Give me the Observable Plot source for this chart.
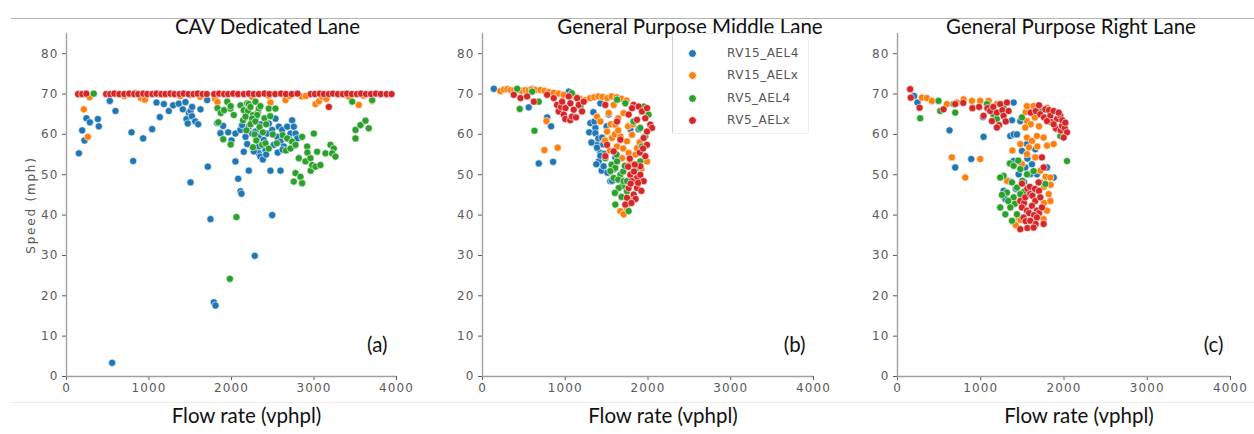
<!DOCTYPE html>
<html><head><meta charset="utf-8">
<script src="https://cdn.jsdelivr.net/npm/d3@7"></script>
<script src="https://cdn.jsdelivr.net/npm/@observablehq/plot@0.6"></script>
<style>
body{margin:0;background:#fff;}
#fig{position:relative;width:1254px;height:434px;overflow:hidden;background:#fff;font-family:"DejaVu Sans",sans-serif;}
.panel{position:absolute;top:0;}
.hline{position:absolute;left:11px;width:1243px;height:0;}
#legend{position:absolute;left:672px;top:33px;width:135px;height:99px;border:1px solid #eeeeee;border-left:1px solid #d0d0d0;border-radius:2px;background:#fff;z-index:2;}
.lg-item{position:absolute;left:0;height:14px;line-height:14px;font-size:12px;color:#555;letter-spacing:0.5px;}
.lg-dot{position:absolute;left:15px;top:3px;width:7px;height:7px;border-radius:50%;border:0.6px solid #fff;}
.lg-text{position:absolute;left:54px;top:0;white-space:nowrap;}
</style></head><body><div id="fig"></div><script>
// ---------- text / categories ----------
const seriesNames = ["RV15_AEL4", "RV15_AELx", "RV5_AEL4", "RV5_AELx"];
const seriesColors = ["#1f77b4", "#ff7f0e", "#2ca02c", "#d62728"];
const panelTitles = ["CAV Dedicated Lane", "General Purpose Middle Lane", "General Purpose Right Lane"];
const panelTags = ["(a)", "(b)", "(c)"];
const xLabel = "Flow rate (vphpl)";
const yLabel = "Speed (mph)";
const xTicks = [0, 1000, 2000, 3000, 4000];
const yTicks = [0, 10, 20, 30, 40, 50, 60, 70, 80];

// ---------- (a) CAV Dedicated Lane: [flow, speed] ----------
const cavRV15AEL4 = [[150,55.3],[190,61],[218,58.5],[242,64],[283,63],[380,63.8],[392,62],[525,68.3],[553,3.4],[594,65.8],[788,60.5],[808,53.4],[929,59],[1038,61.3],[1091,67.9],[1131,64.3],[1180,67.5],[1240,65.8],[1293,67.2],[1361,67.6],[1410,66.2],[1442,68],[1454,63.8],[1470,62.7],[1483,65.4],[1503,65.8],[1503,48.1],[1520,64.5],[1523,66.8],[1560,63.2],[1596,62.5],[1624,66.2],[1705,68.5],[1713,52],[1745,39],[1786,18.4],[1806,17.6],[1826,62.8],[1866,60.3],[1899,62.1],[1960,60.5],[2000,58.5],[2048,60.2],[2109,61.1],[2129,62.3],[2170,59.4],[2210,61.9],[2250,60.2],[2291,60.7],[2291,63.8],[2331,59.4],[2331,57],[2351,62.5],[2392,58.6],[2432,60.2],[2452,62.7],[2493,61.1],[2533,63.9],[2554,59.4],[2574,61.9],[2614,61.1],[2594,58.2],[2634,57],[2675,61.9],[2715,60.2],[2735,63.5],[2755,61.9],[2776,60.2],[2796,59],[2048,53.3],[2149,55.7],[2210,51],[2331,55.3],[2472,51],[2594,51],[2412,56.1],[2513,57.4],[2190,57.6],[2270,55.8],[2350,54.5],[2380,53.8],[2420,55],[2560,55.5],[2620,56.2],[2700,58.8],[2760,57.2],[2109,45.9],[2081,49],[2121,45.3],[2493,40],[2282,29.9]];
const cavRV15AELx = [[170,70],[210,66.2],[259,59.4],[280,69.2],[640,70],[700,69.5],[900,69],[950,68.6],[1250,70],[1380,69.5],[1500,69.8],[1620,69.3],[1800,68.8],[1830,68],[2050,70],[2250,69.3],[2450,69.6],[2473,67.9],[2655,68.5],[2700,69.5],[2850,69.4],[2900,69.5],[3018,67.5],[3060,68.2],[3100,69.3],[3150,68.8],[3300,70],[3420,69.4],[3543,67.3],[3600,69.6],[3705,68.3]];
const cavRV5AEL4 = [[150,70],[220,70],[330,70.1],[700,70],[770,70],[830,70.2],[1130,70],[1600,70.1],[1830,66.5],[1870,65.3],[1910,66],[1948,68.1],[1988,66.4],[1990,67],[2028,64.8],[2109,67.2],[2140,63.5],[2149,66],[2180,61],[2190,67.7],[2200,65.8],[2210,67.5],[2230,66.8],[2260,64.8],[2291,68.1],[2320,65.5],[2331,66.4],[2350,67],[2311,64.8],[2170,64.4],[2250,63.9],[2400,64],[2420,62.5],[2452,66.4],[2470,64.5],[2500,60],[2533,66.4],[2230,62.5],[2290,63.2],[2280,60],[2340,61.8],[2380,60.5],[2300,58.5],[2260,56.8],[1840,63],[1900,58.8],[1990,57.5],[2371,57.4],[2412,57.8],[2452,56.5],[2550,57.8],[2620,59.8],[2660,56],[2675,59],[2735,58.2],[2715,56.5],[2776,57.4],[2856,59.4],[2917,57],[2920,55.5],[2998,60.2],[3038,55.7],[2816,54.1],[2897,53.3],[2957,54.1],[2960,51],[2978,52.4],[3018,52],[3078,52.4],[3139,55.3],[3200,57.4],[3240,56.5],[3220,55.3],[3260,54.5],[2776,50.4],[2836,49.5],[2755,48.3],[2856,47.9],[3463,68.1],[3503,61.1],[3503,59],[3563,62.3],[3624,63.4],[3664,61.5],[3705,68.5],[2060,39.5],[1980,24.2]];
const cavRV5AELx = [[140,70],[190,70],[240,70.1],[480,70],[530,70],[580,70.1],[640,70],[700,70],[760,70.1],[820,70],[870,70],[930,70.1],[980,70],[1040,70],[1090,70.1],[1150,70],[1200,70],[1260,70.1],[1310,70],[1370,70],[1420,70.1],[1480,70],[1540,70],[1590,70.1],[1650,70],[1700,70],[1790,70],[1850,70.1],[1910,70],[1960,70],[2020,70.1],[2080,70],[2150,70],[2210,70.1],[2270,70],[2330,70],[2400,70.1],[2460,70],[2530,70],[2600,70.1],[2660,70],[2730,70],[2800,70.1],[2960,70],[3010,70],[3070,70.1],[3120,70],[3180,70],[3230,70.1],[3290,70],[3350,70],[3400,70.1],[3460,70],[3520,70],[3570,70.1],[3630,70],[3690,70],[3750,70.1],[3810,70],[3880,70],[3940,70],[3180,66.8]];

// ---------- (b) General Purpose Middle Lane ----------
const midRV15AEL4 = [[137,71.3],[559,66.7],[781,64.2],[829,62],[680,52.8],[853,53.2],[1042,70.6],[1290,60.5],[1304,62.8],[1364,61.6],[1324,57.9],[1384,57.4],[1364,60.3],[1400,59],[1424,55.4],[1404,53.3],[1440,51],[1464,52.1],[1470,55.2],[1510,50.5],[1525,64.9],[1545,48.4],[1424,67.7],[1585,51.3],[1787,61.3],[1887,61.3],[1352,63.2],[1316,58],[1384,56.7],[1424,54.7],[1376,52.6],[1565,48.5],[1605,54.3],[1445,59.2],[1500,62],[1460,57.5],[1340,65.5]];
const midRV15AELx = [[217,70.7],[260,71.1],[300,71.2],[340,71],[380,70.9],[420,71.1],[470,70.8],[520,71],[560,70.9],[600,71.2],[640,71],[700,71],[750,70.8],[800,70.5],[860,70.3],[920,70.1],[980,69.8],[1060,69.6],[1120,69.3],[1180,68.8],[1240,68.5],[1300,69],[1350,69.2],[1400,69.4],[1450,69.3],[1509,69],[1560,69.4],[1620,69.2],[1680,68.8],[1740,68.4],[773,63.3],[748,56.1],[909,56.7],[1706,40.7],[1746,41.5],[1505,60.7],[1550,62.5],[1565,59.1],[1600,60],[1605,62.4],[1640,64],[1666,59.5],[1626,57],[1700,56.5],[1746,58.3],[1760,62],[1807,59.9],[1766,55.4],[1850,55],[1867,56.6],[1920,51.5],[1786,53.3],[1686,54.1],[1525,65.3],[1384,64.4],[1424,63.2],[1585,67.3],[1706,65.3],[1666,41],[1706,40.2],[1746,42.6],[1988,53.3],[1540,56],[1640,61],[1820,62.5],[1900,58],[1480,58.5]];
const midRV5AEL4 = [[419,71.3],[450,66.3],[600,70.6],[628,60.9],[680,68.1],[1080,70.2],[1183,66.9],[1626,68.6],[1726,67.7],[1826,63.2],[1907,61.6],[1967,59.5],[1927,57],[1947,66.9],[2007,64.9],[1560,52.5],[1605,51.7],[1666,50],[1585,49.2],[1640,48.8],[1700,50.8],[1690,47.2],[1720,52.2],[1706,48.4],[1646,46.7],[1746,45.9],[1600,45.5],[1605,42.6],[1780,43.5],[1766,41],[1907,53.3],[1867,51.7],[1545,50.9],[1484,54.1],[1626,53.3],[1746,48.4],[1680,44.5],[1620,55]];
const midRV5AELx = [[378,69.8],[459,69],[539,69.4],[620,68.1],[781,69.8],[861,69],[901,67.3],[921,65.7],[950,66.8],[962,68.1],[1002,66.5],[982,64.9],[1000,63.8],[1042,69.4],[1062,67.7],[1060,63.5],[1102,66.1],[1082,64.4],[1130,64.2],[1143,69],[1163,67.3],[1203,65.7],[1223,68.1],[1484,67.3],[1766,64.9],[1826,67.3],[1887,66.9],[1927,65.7],[1988,66.5],[1967,64],[2028,62.4],[2048,61.6],[1988,60.7],[1807,66.5],[1867,63.6],[1626,63.2],[1666,58.7],[1505,57.4],[1585,55.8],[1484,54.6],[1786,50],[1867,49.2],[1807,48.4],[1907,50],[1766,46.7],[1867,46.7],[1827,45.1],[1746,44.3],[1726,42.6],[1947,48.4],[1907,52.1],[1967,54.6],[1988,57.4],[1947,59.1],[1840,52.5],[1780,54],[1790,47.8],[1830,50.8],[1880,48],[1920,46],[1850,44],[1800,43],[1900,55.5],[1940,56.5],[1760,52]];

// ---------- (c) General Purpose Right Lane ----------
const rightRV15AEL4 = [[200,69.5],[240,67.9],[625,61],[693,51.8],[886,53.9],[1034,59.4],[1026,64.3],[1395,67.9],[1375,63.5],[1355,59.6],[1395,60],[1475,63.3],[1275,46],[1295,44],[1330,48.5],[1420,46.5],[1395,53.4],[1455,50.1],[1480,52.8],[1520,48.2],[1535,51.8],[1560,54],[1600,50.2],[1615,52.6],[1675,50.1],[1796,51.8],[1876,49.3],[1495,55.9],[1655,56.3],[1435,60],[1555,57.6]];
const rightRV15AELx = [[293,69.1],[353,69],[413,68.3],[593,67.5],[713,67.9],[794,68.7],[894,68.3],[994,68.3],[1094,68.3],[1194,67.5],[1540,65.5],[1555,67],[1635,67],[1650,64.2],[1715,66.6],[1796,66.6],[1555,63.3],[1600,62.5],[1700,62],[1535,61.7],[1555,59.2],[1475,57.6],[1580,56.8],[1615,58.4],[1675,59.6],[1680,57],[1755,59.2],[1796,57.2],[1876,57.6],[1555,55.1],[1655,54.3],[1495,52.6],[1715,51],[1780,49.5],[1836,49.3],[1840,47.5],[1760,47],[1816,45.2],[1760,43],[1836,43.5],[1796,41.1],[1755,39],[1395,38.2],[1420,37.5],[1455,39.4],[1480,38.8],[1315,48.5],[1380,56],[653,54.3],[994,53.9],[814,49.3]];
const rightRV5AEL4 = [[273,64],[493,68.3],[513,65.8],[673,67.5],[693,65.4],[1074,67.5],[1150,65],[1194,63.8],[1275,66.6],[1495,64.2],[1735,65.8],[1916,61.3],[1956,59.6],[2036,53.4],[1275,49.7],[1234,49.3],[1350,52.8],[1395,52.2],[1450,53.5],[1475,51.4],[1555,50.1],[1375,48.1],[1500,48.5],[1435,46.8],[1315,45.6],[1255,45],[1520,45.8],[1395,44.4],[1330,43.5],[1410,42.8],[1475,45.2],[1234,41.9],[1295,40.2],[1355,41.9],[1375,38.6],[1435,40.2],[1635,50.9],[1715,48.1],[1776,47.7]];
const rightRV5AELx = [[152,71.2],[160,69.1],[265,66.6],[553,66.2],[693,67.5],[790,67.8],[900,66.5],[980,66.8],[1034,64.6],[1080,66.5],[1114,65.8],[1150,66.8],[1194,65.4],[1220,62.3],[1234,67.5],[1260,66],[1274,64.6],[1300,63.2],[1335,65.8],[1315,67.9],[1194,61.7],[1134,63.3],[1600,65.4],[1660,65.8],[1700,67.2],[1715,65],[1760,64.2],[1776,66.2],[1820,66],[1836,64.6],[1850,63],[1876,65.8],[1900,61.5],[1916,63.8],[1956,64.6],[1960,61],[1976,62.1],[1980,63.5],[2010,61.5],[2016,62.9],[2036,60.5],[1996,59.2],[1796,63.3],[1876,62.5],[1936,65.4],[1735,54.3],[1756,51.8],[1495,47.8],[1695,48.1],[1560,46.5],[1590,47],[1650,46.5],[1700,46],[1475,43.5],[1520,43],[1535,44.4],[1595,45.2],[1620,44.8],[1655,43.5],[1715,44.4],[1495,41.9],[1555,41.1],[1580,40.5],[1615,42.3],[1675,41.1],[1700,40.5],[1735,41.9],[1640,40],[1515,39.4],[1540,38.5],[1595,38.6],[1675,39.4],[1660,37.8],[1475,36.5],[1560,36.8],[1635,36.9],[1755,37.8]];

const panelSeries = [
  [cavRV15AEL4, cavRV15AELx, cavRV5AEL4, cavRV5AELx],
  [midRV15AEL4, midRV15AELx, midRV5AEL4, midRV5AELx],
  [rightRV15AEL4, rightRV15AELx, rightRV5AEL4, rightRV5AELx]
];

// ---------- layout (not data) ----------
const geom = [
  {left: 0,   ml: 66, mr: 22, titleDx: 36, tagDx: -9},
  {left: 418, ml: 64, mr: 23, titleDx: 42, tagDx: -8},
  {left: 836, ml: 61, mr: 24, titleDx: 7,  tagDx: -7}
];
const fig = document.getElementById("fig");

function addLine(top, color) {
  const d = document.createElement("div");
  d.className = "hline";
  d.style.top = top + "px";
  d.style.borderTop = "1px solid " + color;
  fig.appendChild(d);
}
addLine(18, "#b4b4b4");
addLine(402, "#ececec");

const titleFont = "Lato, 'Open Sans', sans-serif";
const axisGray = "#a0a0a0";

panelSeries.forEach((values, i) => {
  const g = geom[i];
  const rows = values.flatMap((arr, k) => arr.map(([flow, speed]) => ({flow, speed, series: seriesNames[k]})));
  const chart = Plot.plot({
    width: 418, height: 434,
    marginLeft: g.ml, marginRight: g.mr, marginTop: 33, marginBottom: 58,
    style: {background: "transparent", overflow: "visible", fontFamily: "DejaVu Sans"},
    x: {domain: [0, 4000]},
    y: {domain: [0, 85]},
    color: {domain: seriesNames, range: seriesColors},
    marks: [
      Plot.axisY({ticks: yTicks, tickSize: 4, tickPadding: 4, fontSize: 12, color: "#5a5a5a",
        label: i === 0 ? yLabel : null, labelAnchor: "center", labelOffset: 40, labelArrow: "none"}),
      Plot.axisX({ticks: xTicks, tickFormat: d3.format("d"), tickSize: 4, tickPadding: 3, fontSize: 12, color: "#5a5a5a", label: null}),
      Plot.ruleX([0], {stroke: axisGray, strokeWidth: 1.4}),
      Plot.ruleY([0], {stroke: axisGray, strokeWidth: 1.4}),
      Plot.dot(rows, {x: "flow", y: "speed", fill: "series", r: 3.6, stroke: "white", strokeWidth: 0.6}),
      Plot.text([panelTitles[i]], {text: d => d, frameAnchor: "top", dx: g.titleDx, dy: -14, fontSize: 20.5, fontFamily: titleFont, fill: "#111"}),
      Plot.text([xLabel], {text: d => d, frameAnchor: "bottom", dx: 15, dy: 46, fontSize: 20.5, fontFamily: titleFont, fill: "#111"}),
      Plot.text([panelTags[i]], {text: d => d, frameAnchor: "bottom-right", textAnchor: "end", dx: g.tagDx, dy: -25, fontSize: 20.5, fontFamily: titleFont, fill: "#111"})
    ]
  });
  chart.classList.add("panel");
  chart.style.left = g.left + "px";
  chart.querySelectorAll("g[aria-label='x-axis tick label'] text, g[aria-label='y-axis tick label'] text").forEach(t => t.setAttribute("letter-spacing", "1.1"));
  chart.querySelectorAll("g[aria-label='y-axis label'] text").forEach(t => t.setAttribute("letter-spacing", "1.8"));
  fig.appendChild(chart);
});

// legend (panel b)
const legend = document.createElement("div");
legend.id = "legend";
seriesNames.forEach((name, k) => {
  const item = document.createElement("div");
  item.className = "lg-item";
  item.style.top = (12 + k * 22.3) + "px";
  item.style.width = "130px";
  const dot = document.createElement("div");
  dot.className = "lg-dot";
  dot.style.background = seriesColors[k];
  const txt = document.createElement("span");
  txt.className = "lg-text";
  txt.textContent = name;
  item.appendChild(dot);
  item.appendChild(txt);
  legend.appendChild(item);
});
fig.appendChild(legend);
</script></body></html>
